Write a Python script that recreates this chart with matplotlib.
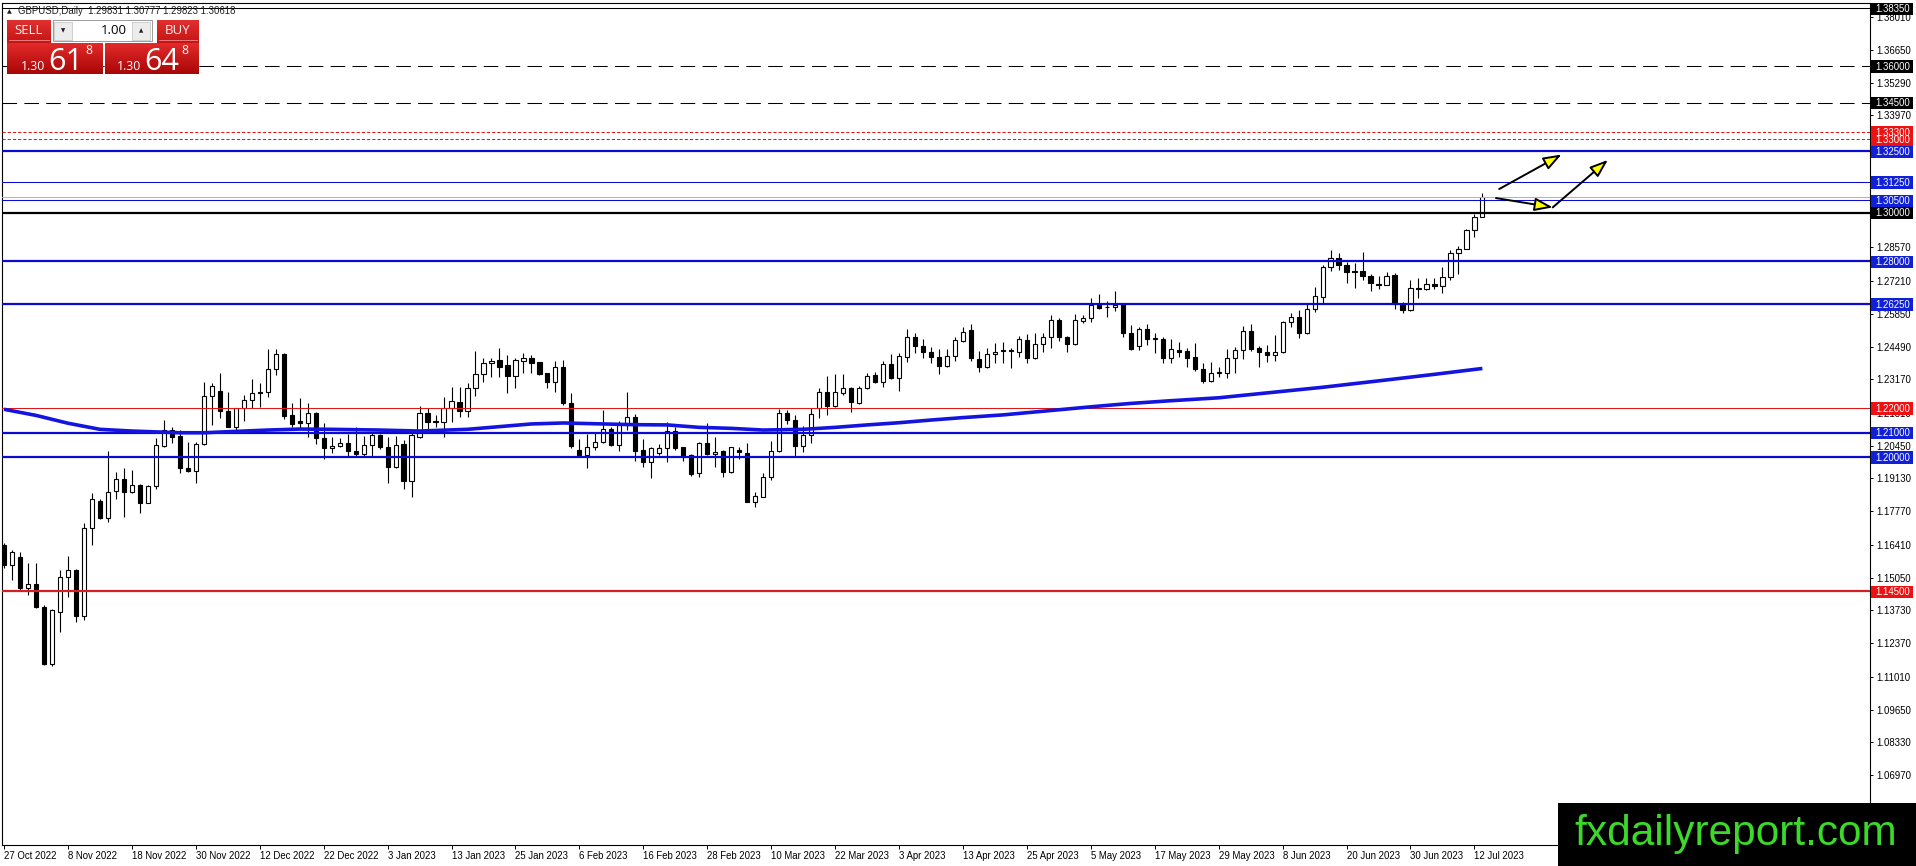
import numpy as np
import matplotlib
matplotlib.use('Agg')
import matplotlib.pyplot as plt
from matplotlib.patches import Rectangle, FancyArrowPatch
from matplotlib.colors import LinearSegmentedColormap

plt.rcParams['font.family'] = ['Liberation Sans', 'DejaVu Sans']

# ---------------- data ----------------
opens = [1.1640,1.1558,1.1589,1.1462,1.1479,1.1387,1.1152,1.1364,1.1507,1.1537,
         1.1349,1.1708,1.1820,1.1749,1.1859,1.1908,1.1855,1.1885,1.1813,1.1881,
         1.2046,1.2110,1.2086,1.1953,1.1941,1.2052,1.2249,1.2270,1.2188,1.2124,
         1.2199,1.2233,1.2266,1.2264,1.2358,1.2422,1.2172,1.2147,1.2137,1.2178,
         1.2076,1.2035,1.2045,1.2056,1.2026,1.2012,1.2049,1.2090,1.2039,1.1958,
         1.2053,1.1903,1.2080,1.2178,1.2147,1.2142,1.2202,1.2225,1.2189,1.2281,
         1.2339,1.2383,1.2397,1.2376,1.2332,1.2394,1.2403,1.2387,1.2342,1.2308,
         1.2367,1.2219,1.2028,1.2008,1.2039,1.2062,1.2113,1.2049,1.2131,1.2165,
         1.2028,1.1981,1.2015,1.2035,1.2106,1.2039,1.2007,1.1933,1.2056,1.2012,
         1.2023,1.1940,1.2028,1.2017,1.1817,1.1837,1.1917,1.2026,1.2178,1.2151,
         1.2046,1.2090,1.2199,1.2267,1.2208,1.2263,1.2281,1.2219,1.2281,1.2335,
         1.2305,1.2379,1.2322,1.2410,1.2492,1.2455,1.2431,1.2410,1.2373,1.2414,
         1.2476,1.2519,1.2399,1.2369,1.2420,1.2432,1.2435,1.2431,1.2478,1.2403,
         1.2461,1.2489,1.2560,1.2489,1.2461,1.2557,1.2567,1.2622,1.2612,1.2612,
         1.2626,1.2506,1.2454,1.2522,1.2481,1.2481,1.2403,1.2438,1.2433,1.2407,
         1.2358,1.2312,1.2345,1.2345,1.2403,1.2438,1.2517,1.2444,1.2431,1.2417,
         1.2431,1.2553,1.2571,1.2506,1.2604,1.2656,1.2776,1.2815,1.2785,1.2762,
         1.2762,1.2740,1.2708,1.2705,1.2744,1.2626,1.2601,1.2693,1.2687,1.2706,
         1.2699,1.2735,1.2833,1.2852,1.2928,1.2983]
highs = [1.1647,1.1619,1.1612,1.1565,1.1565,1.1394,1.1378,1.1537,1.1595,1.1540,
         1.1731,1.1854,1.1827,1.2024,1.1937,1.1956,1.1947,1.1889,1.1885,1.2076,
         1.2151,1.2124,1.2110,1.2060,1.2060,1.2308,1.2301,1.2345,1.2267,1.2201,
         1.2253,1.2318,1.2301,1.2442,1.2442,1.2427,1.2219,1.2240,1.2222,1.2185,
         1.2140,1.2083,1.2076,1.2094,1.2124,1.2086,1.2097,1.2092,1.2083,1.2086,
         1.2069,1.2097,1.2208,1.2199,1.2172,1.2247,1.2288,1.2288,1.2301,1.2433,
         1.2403,1.2403,1.2444,1.2417,1.2403,1.2427,1.2417,1.2390,1.2345,1.2394,
         1.2397,1.2260,1.2072,1.2094,1.2103,1.2192,1.2121,1.2147,1.2264,1.2176,
         1.2072,1.2042,1.2053,1.2144,1.2121,1.2042,1.2011,1.2063,1.2138,1.2083,
         1.2028,1.2042,1.2042,1.2058,1.1858,1.1933,1.2065,1.2195,1.2192,1.2172,
         1.2127,1.2199,1.2281,1.2331,1.2339,1.2339,1.2288,1.2290,1.2345,1.2349,
         1.2394,1.2420,1.2424,1.2523,1.2508,1.2481,1.2451,1.2440,1.2440,1.2489,
         1.2533,1.2544,1.2435,1.2444,1.2465,1.2472,1.2444,1.2495,1.2502,1.2508,
         1.2506,1.2581,1.2567,1.2495,1.2583,1.2581,1.2649,1.2665,1.2639,1.2679,
         1.2631,1.2540,1.2530,1.2544,1.2506,1.2489,1.2481,1.2472,1.2444,1.2465,
         1.2383,1.2390,1.2369,1.2440,1.2451,1.2536,1.2544,1.2454,1.2458,1.2499,
         1.2558,1.2588,1.2601,1.2624,1.2697,1.2785,1.2847,1.2833,1.2799,1.2792,
         1.2837,1.2749,1.2740,1.2755,1.2751,1.2635,1.2724,1.2733,1.2733,1.2731,
         1.2776,1.2847,1.2864,1.2932,1.2994,1.3078]
lows = [1.1544,1.1497,1.1456,1.1435,1.1381,1.1149,1.1145,1.1285,1.1428,1.1326,
        1.1333,1.1640,1.1745,1.1735,1.1827,1.1756,1.1853,1.1772,1.1810,1.1868,
        1.2042,1.2056,1.1936,1.1939,1.1895,1.2049,1.2131,1.2158,1.2122,1.2110,
        1.2148,1.2199,1.2206,1.2247,1.2335,1.2154,1.2121,1.2117,1.2080,1.2053,
        1.1990,1.2015,1.2042,1.2004,1.2004,1.2004,1.2004,1.2031,1.1895,1.1953,
        1.1868,1.1838,1.2076,1.2110,1.2121,1.2083,1.2144,1.2165,1.2165,1.2249,
        1.2308,1.2328,1.2328,1.2260,1.2281,1.2342,1.2342,1.2335,1.2281,1.2267,
        1.2213,1.2035,1.2001,1.1956,1.2028,1.2056,1.2045,1.2024,1.2110,1.1985,
        1.1960,1.1913,1.2008,1.1981,1.2028,1.1985,1.1922,1.1919,1.2008,1.1960,
        1.1919,1.1936,1.1990,1.1815,1.1797,1.1835,1.1906,1.2022,1.2133,1.2004,
        1.2022,1.2056,1.2158,1.2172,1.2206,1.2253,1.2185,1.2215,1.2277,1.2301,
        1.2288,1.2319,1.2271,1.2390,1.2427,1.2406,1.2386,1.2339,1.2369,1.2394,
        1.2472,1.2392,1.2349,1.2362,1.2383,1.2386,1.2362,1.2407,1.2383,1.2399,
        1.2431,1.2444,1.2474,1.2431,1.2458,1.2547,1.2553,1.2605,1.2574,1.2597,
        1.2492,1.2438,1.2438,1.2458,1.2424,1.2386,1.2386,1.2410,1.2369,1.2353,
        1.2304,1.2308,1.2328,1.2322,1.2345,1.2399,1.2433,1.2367,1.2390,1.2393,
        1.2427,1.2530,1.2485,1.2503,1.2594,1.2628,1.2762,1.2765,1.2710,1.2690,
        1.2724,1.2680,1.2686,1.2703,1.2604,1.2588,1.2597,1.2649,1.2683,1.2686,
        1.2669,1.2724,1.2747,1.2849,1.2901,1.2982]
closes = [1.1558,1.1612,1.1462,1.1479,1.1385,1.1152,1.1374,1.1507,1.1537,1.1349,
          1.1708,1.1827,1.1749,1.1858,1.1908,1.1858,1.1885,1.1813,1.1881,1.2048,
          1.2110,1.2083,1.1953,1.1941,1.2052,1.2249,1.2290,1.2188,1.2124,1.2199,
          1.2233,1.2260,1.2260,1.2358,1.2420,1.2168,1.2133,1.2137,1.2178,1.2076,
          1.2035,1.2045,1.2056,1.2026,1.2012,1.2049,1.2090,1.2039,1.1958,1.2049,
          1.1903,1.2090,1.2178,1.2144,1.2142,1.2202,1.2229,1.2189,1.2281,1.2339,
          1.2383,1.2392,1.2369,1.2332,1.2397,1.2403,1.2386,1.2339,1.2308,1.2367,
          1.2219,1.2045,1.2008,1.2039,1.2062,1.2113,1.2049,1.2131,1.2165,1.2026,
          1.1981,1.2035,1.2035,1.2106,1.2035,1.2001,1.1930,1.2056,1.2012,1.2022,
          1.1940,1.2039,1.2019,1.1817,1.1840,1.1917,1.2026,1.2178,1.2151,1.2046,
          1.2090,1.2176,1.2267,1.2208,1.2264,1.2281,1.2226,1.2281,1.2333,1.2308,
          1.2379,1.2322,1.2413,1.2492,1.2455,1.2431,1.2410,1.2373,1.2414,1.2478,
          1.2513,1.2406,1.2369,1.2420,1.2431,1.2438,1.2438,1.2483,1.2403,1.2461,
          1.2492,1.2560,1.2489,1.2461,1.2560,1.2567,1.2622,1.2611,1.2615,1.2622,
          1.2506,1.2440,1.2522,1.2481,1.2485,1.2403,1.2440,1.2431,1.2406,1.2358,
          1.2312,1.2342,1.2349,1.2403,1.2438,1.2517,1.2440,1.2428,1.2417,1.2431,
          1.2553,1.2574,1.2506,1.2604,1.2658,1.2776,1.2815,1.2785,1.2758,1.2758,
          1.2740,1.2710,1.2705,1.2742,1.2626,1.2601,1.2690,1.2687,1.2706,1.2699,
          1.2735,1.2833,1.2852,1.2928,1.2980,1.3062]

ma_idx = [0, 4, 8, 12, 16, 22, 25, 33, 37, 41, 47, 52, 58, 62, 66, 70, 75, 79,
          83, 87, 91, 95, 100, 104, 108, 112, 116, 120, 125, 129, 133, 137,
          141, 146, 152, 165, 173, 179, 185]
ma_val = [1.2195, 1.2170, 1.2138, 1.2113, 1.2106, 1.2099, 1.2099, 1.2110,
          1.2114, 1.2113, 1.2110, 1.2106, 1.2113, 1.2124, 1.2135, 1.2139,
          1.2135, 1.2132, 1.2131, 1.2121, 1.2117, 1.2110, 1.2113, 1.2121,
          1.2131, 1.2140, 1.2151, 1.2161, 1.2172, 1.2184, 1.2196, 1.2208,
          1.2219, 1.2230, 1.2242, 1.2285, 1.2315, 1.2338, 1.2362]

date_labels = ['27 Oct 2022', '8 Nov 2022', '18 Nov 2022', '30 Nov 2022',
               '12 Dec 2022', '22 Dec 2022', '3 Jan 2023', '13 Jan 2023',
               '25 Jan 2023', '6 Feb 2023', '16 Feb 2023', '28 Feb 2023',
               '10 Mar 2023', '22 Mar 2023', '3 Apr 2023', '13 Apr 2023',
               '25 Apr 2023', '5 May 2023', '17 May 2023', '29 May 2023',
               '8 Jun 2023', '20 Jun 2023', '30 Jun 2023', '12 Jul 2023']
label_step = 8

y_ticks = [1.38010, 1.36650, 1.35290, 1.33970, 1.28570, 1.27210, 1.25850,
           1.24490, 1.23170, 1.21810, 1.20450, 1.19130, 1.17770, 1.16410,
           1.15050, 1.13730, 1.12370, 1.11010, 1.09650, 1.08330, 1.06970,
           1.05610]

# horizontal levels: value, line colour, width(pt), style, label box colour
level_vals = [1.3835, 1.3600, 1.3450, 1.3330, 1.3300, 1.3250, 1.3125, 1.3050,
              1.3000, 1.2800, 1.2625, 1.2200, 1.2100, 1.2000, 1.1450]
level_cols = ['#000000', '#000000', '#000000', '#e01515', '#e01515', '#0a0ad0',
              '#0a0ad0', '#0a0ad0', '#000000', '#0a0ad0', '#0a0ad0', '#e01515',
              '#0a0ad0', '#0a0ad0', '#d42020']
level_lw = [0.75, 0.75, 0.75, 0.75, 0.75, 1.6, 0.75, 0.75, 1.6, 1.6, 1.6, 0.75,
            1.6, 1.6, 1.6]
level_ls = ['-', (0, (14, 7)), (0, (14, 7)), (0, (3, 2)), (0, (3, 2)), '-', '-',
            '-', '-', '-', '-', '-', '-', '-', '-']
label_box = ['#000000', '#000000', '#000000', '#ee1111', '#ee1111', '#1020d8',
             '#1020d8', '#1020d8', '#000000', '#1020d8', '#1020d8', '#ee1111',
             '#1020d8', '#1020d8', '#ee1111']
bid_price = 1.30618

arrows = [((187.1, 1.3096), (194.9, 1.3237)),
          ((186.7, 1.3059), (193.8, 1.3021)),
          ((193.8, 1.3021), (200.7, 1.3215))]

header = 'GBPUSD,Daily  1.29831 1.30777 1.29823 1.30618'

# ---------------- figure ----------------
W, H = 1916, 866
fig = plt.figure(figsize=(W / 100, H / 100), dpi=100, facecolor='white')
ax = fig.add_axes([2 / W, (H - 845) / H, 1868 / W, (845 - 2.7) / H])
ax.set_facecolor('white')

n = len(opens)
x = np.arange(n)
o = np.array(opens); c = np.array(closes)
hi = np.array(highs); lo = np.array(lows)
up = c >= o

ax.vlines(x, lo, hi, color='black', lw=0.8, zorder=2)
ax.bar(x, np.maximum(np.abs(c - o), 0.00005), bottom=np.minimum(o, c), width=0.52,
       color=np.where(up, 'white', 'black'), edgecolor='black', linewidth=0.8,
       zorder=3)

# levels
for v, col, lw, ls in zip(level_vals, level_cols, level_lw, level_ls):
    ax.axhline(v, color=col, lw=lw, ls=ls, zorder=4)
ax.axhline(bid_price, color='#b4b4b4', lw=0.75, zorder=3.5)

# moving average
ax.plot(ma_idx, ma_val, color='#1414e0', lw=2.6, zorder=5, solid_capstyle='butt')

# arrows
for (p0, p1) in arrows:
    ar = FancyArrowPatch(p0, p1, arrowstyle='-|>,head_length=11,head_width=4',
                         mutation_scale=1, lw=1.4, fc='#ffff00', ec='black',
                         shrinkA=0, shrinkB=0, zorder=6, clip_on=False)
    ax.add_patch(ar)

ax.set_xlim(-0.25, 233.5)
ax.set_ylim(1.04125, 1.38583)

# axes styling
for s in ax.spines.values():
    s.set_color('black'); s.set_linewidth(0.8)

ax.yaxis.tick_right()
ax.set_yticks(y_ticks)
ax.set_yticklabels(['%.5f' % t for t in y_ticks])
ax.tick_params(axis='y', direction='out', length=2.5, width=0.7, pad=2.2,
               labelsize=6.9, colors='black')

tick_pos = [i * label_step for i in range(len(date_labels))]
ax.set_xticks(tick_pos)
ax.set_xticklabels(date_labels, ha='left')
ax.tick_params(axis='x', direction='out', length=3, width=0.7, pad=1.5,
               labelsize=6.9, colors='black')

# coloured price labels on the right axis
ytr = ax.get_yaxis_transform()
bh = 0.0052
for v, bc in sorted(zip(level_vals, label_box), key=lambda t: t[0]):
    ax.add_patch(Rectangle((1.0008, v - bh * 0.55), 0.0222, bh, transform=ytr,
                           facecolor=bc, edgecolor='none', clip_on=False,
                           zorder=10))
    ax.text(1.0030, v - 0.0003, '%.5f' % v, transform=ytr, color='white',
            fontsize=6.9, va='center', ha='left', clip_on=False, zorder=11)

# ---------------- overlay (pixel space) ----------------
ov = fig.add_axes([0, 0, 1, 1])
ov.axis('off')
ov.set_zorder(20)


def gradient_box(x0, y0, w, h, top, bottom):
    cmap = LinearSegmentedColormap.from_list('g', [top, bottom])
    grad = np.linspace(0, 1, 64).reshape(-1, 1)
    ov.imshow(grad, cmap=cmap, aspect='auto', extent=(x0, x0 + w, y0 + h, y0),
              interpolation='bilinear', zorder=1)


ov.text(7, 11.5, '\u25B2', fontsize=4.5, va='center', ha='left',
        family=['DejaVu Sans'], color='#202020')
ov.text(18, 11.5, header, fontsize=6.9, va='center', ha='left', color='#202020')

# one-click trading panel
gradient_box(7, 20, 44, 23, '#e03030', '#c41414')
gradient_box(157, 20, 42, 23, '#e03030', '#c41414')
ov.add_patch(Rectangle((53, 20), 99, 21, fc='white', ec='#9a9a9a', lw=0.7,
                       zorder=2))
ov.add_patch(Rectangle((54.5, 21.5), 18, 18, fc='#ececec', ec='#c0c0c0', lw=0.5,
                       zorder=3))
ov.add_patch(Rectangle((132.5, 21.5), 18, 18, fc='#ececec', ec='#c0c0c0', lw=0.5,
                       zorder=3))
ov.text(63.5, 30.5, '\u25BC', fontsize=4, ha='center', va='center',
        family=['DejaVu Sans'], color='#202020', zorder=4)
ov.text(141.5, 30.5, '\u25B2', fontsize=4, ha='center', va='center',
        family=['DejaVu Sans'], color='#202020', zorder=4)
ov.text(127, 31, '1.00', fontsize=9.5, ha='right', va='center', color='black',
        family=['Open Sans', 'DejaVu Sans'], zorder=4)
ov.text(29, 30.5, 'SELL', fontsize=9.5, ha='center', va='center',
        color='#fff0f0', family=['Open Sans', 'DejaVu Sans'], zorder=4)
ov.text(178, 30.5, 'BUY', fontsize=9.5, ha='center', va='center',
        color='#fff0f0', family=['Open Sans', 'DejaVu Sans'], zorder=4)
ov.plot([9, 49], [39.5, 39.5], color='#f08a8a', lw=0.6, zorder=4)
ov.plot([159, 197], [39.5, 39.5], color='#f08a8a', lw=0.6, zorder=4)
gradient_box(7, 43, 96, 31, '#e42a2a', '#a80606')
gradient_box(105, 43, 94, 31, '#e42a2a', '#a80606')

for (x0, big, sup) in [(21, '61', '8'), (117, '64', '8')]:
    ov.text(x0, 69.5, '1.30', fontsize=8.8, ha='left', va='baseline',
            color='white', family=['Open Sans', 'DejaVu Sans'], zorder=4)
    ov.text(x0 + 27, 70, big, fontsize=22, ha='left', va='baseline',
            color='white', family=['Open Sans', 'DejaVu Sans'], zorder=4)
    ov.text(x0 + 64, 54.5, sup, fontsize=8.8, ha='left', va='baseline',
            color='white', family=['Open Sans', 'DejaVu Sans'], zorder=4)

# watermark
ov.add_patch(Rectangle((1558, 803), 358, 63, fc='black', ec='none', zorder=2))
ov.text(1574, 845, 'fxdailyreport.com', fontsize=30.5, color='#3cd82a',
        ha='left', va='baseline', family=['Liberation Sans', 'DejaVu Sans'],
        zorder=3)

ov.set_xlim(0, W); ov.set_ylim(H, 0)

fig.savefig('out.png', dpi=100, facecolor='white')
